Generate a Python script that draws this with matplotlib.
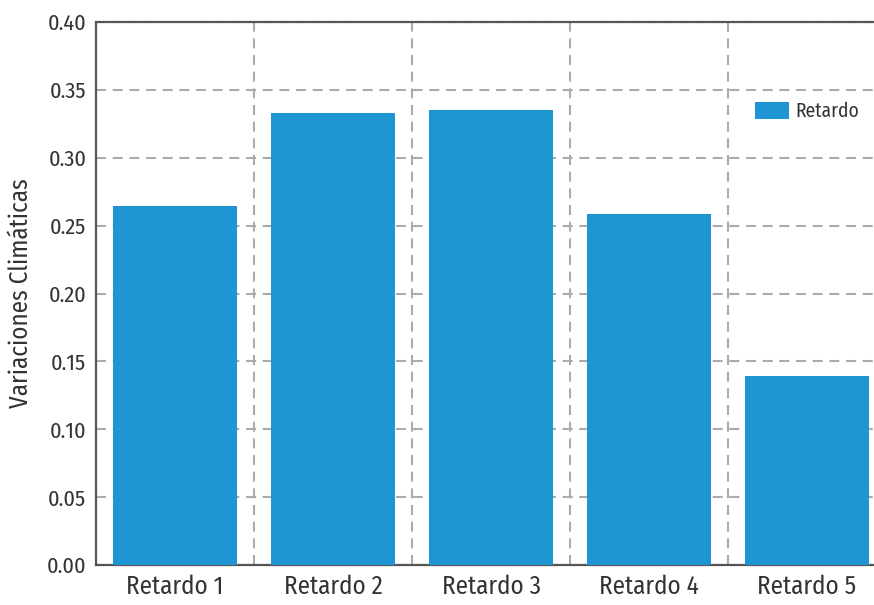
import numpy as np
import matplotlib
matplotlib.use("Agg")
import matplotlib.pyplot as plt

plt.rcParams['font.family'] = ['Fira Sans Condensed', 'DejaVu Sans']

categories = ["Retardo 1", "Retardo 2", "Retardo 3", "Retardo 4", "Retardo 5"]
values = [0.2645, 0.333, 0.335, 0.2585, 0.139]
yticks = [0.00, 0.05, 0.10, 0.15, 0.20, 0.25, 0.30, 0.35, 0.40]

bar_color = "#1e96d3"
grid_color = "#ababab"
spine_color = "#555555"
text_color = "#333333"

fig = plt.figure(figsize=(8.74, 6.05), dpi=100)
# axes runs past the right edge of the image, as in the reference
ax = fig.add_axes([96 / 874, 40 / 605, 790 / 874, 543 / 605])

x = np.arange(len(categories))
ax.bar(x, values, width=0.785, color=bar_color, label="Retardo", zorder=3)

ax.set_xlim(-0.5, len(categories) - 0.5)
ax.set_ylim(0, 0.40)
ax.set_xticks(x)
ax.set_xticklabels(categories)
ax.set_xticks(x[:-1] + 0.5, minor=True)
ax.set_yticks(yticks)
ax.set_yticklabels([f"{v:.2f}" for v in yticks])

ls = (0, (4.8, 3.2))
ax.grid(which="minor", axis="x", color=grid_color, linestyle=ls, linewidth=1.5, zorder=0)
ax.grid(which="major", axis="y", color=grid_color, linestyle=ls, linewidth=1.5, zorder=0)
ax.set_axisbelow(True)

ax.tick_params(which="both", length=0)
ax.tick_params(axis="x", labelsize=18, colors=text_color, pad=7)
ax.tick_params(axis="y", labelsize=16, colors=text_color, pad=7)

for s in ["left", "bottom", "top"]:
    ax.spines[s].set_color(spine_color)
    ax.spines[s].set_linewidth(1.6)
ax.spines["right"].set_visible(False)

ax.set_ylabel("Variaciones Climáticas", fontsize=18, color=text_color, labelpad=10)

leg = ax.legend(loc="upper left", bbox_to_anchor=(747 / 874, 1 - 94 / 605),
                bbox_transform=fig.transFigure, frameon=False,
                prop={"size": 14},
                handlelength=1.75, handleheight=0.95, handletextpad=0.35,
                borderaxespad=0)
for t in leg.get_texts():
    t.set_color(text_color)

fig.savefig("out.png", dpi=100)
